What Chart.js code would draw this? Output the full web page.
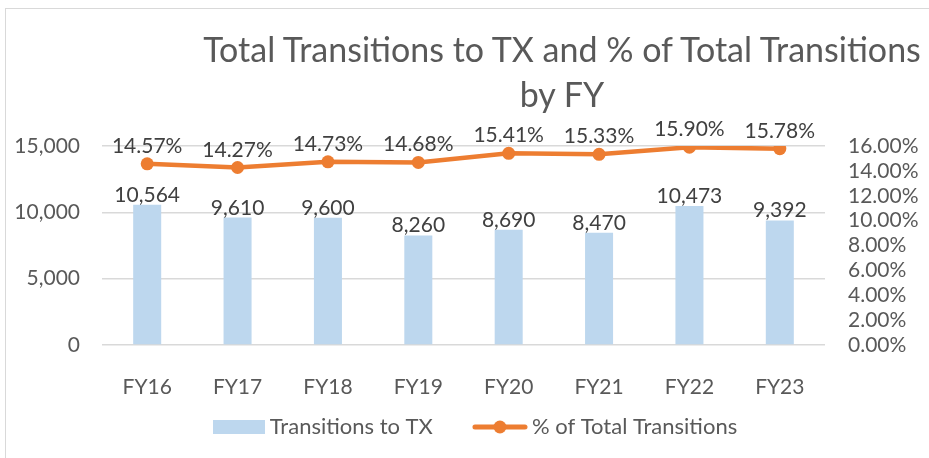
<!DOCTYPE html>
<html>
<head>
<meta charset="utf-8">
<script src="https://cdn.jsdelivr.net/npm/chart.js@4"></script>
<style>
  html, body { margin: 0; padding: 0; background: #fff; }
  #wrap { position: relative; width: 929px; height: 458px; overflow: hidden; }
  #frame { position: absolute; left: 5px; top: 8px; width: 1000px; height: 1000px; border: 1.5px solid #d9d9d9; }
  #title { position: absolute; left: 180px; width: 764px; top: 26px; text-align: center;
           font-family: Lato, sans-serif; font-size: 34px; line-height: 45px; color: #595959; }
  #chart { position: absolute; left: 0; top: 0; }
</style>
</head>
<body>
<div id="wrap">
  <div id="frame"></div>
  <canvas id="chart" width="929" height="458"></canvas>
  <div id="title">Total Transitions to TX and % of Total Transitions<br>by FY</div>
</div>
<script>
const years = ['FY16', 'FY17', 'FY18', 'FY19', 'FY20', 'FY21', 'FY22', 'FY23'];
const transitions = [10564, 9610, 9600, 8260, 8690, 8470, 10473, 9392];
const pctOfTotal = [14.57, 14.27, 14.73, 14.68, 15.41, 15.33, 15.90, 15.78];

const barColor = '#BDD7EE';
const lineColor = '#ED7D31';
const tickColor = '#595959';
const labelColor = '#404040';
const font = 'Lato, sans-serif';

// legend swatches (bar block, line with marker)
const barSwatch = document.createElement('canvas');
barSwatch.width = 52; barSwatch.height = 14;
let sc = barSwatch.getContext('2d');
sc.fillStyle = barColor;
sc.fillRect(0, 0, 52, 14);

const lineSwatch = document.createElement('canvas');
lineSwatch.width = 56; lineSwatch.height = 14;
sc = lineSwatch.getContext('2d');
sc.strokeStyle = lineColor; sc.lineWidth = 5; sc.lineCap = 'round';
sc.beginPath(); sc.moveTo(3, 7); sc.lineTo(53, 7); sc.stroke();
sc.fillStyle = lineColor;
sc.beginPath(); sc.arc(28, 7, 6.5, 0, Math.PI * 2); sc.fill();

const swatches = [barSwatch, lineSwatch];

// value labels above bars and points
const valueLabels = {
  id: 'valueLabels',
  afterDatasetsDraw(chart) {
    const ctx = chart.ctx;
    ctx.save();
    ctx.font = '21px ' + font;
    ctx.fillStyle = labelColor;
    ctx.textAlign = 'center';
    ctx.textBaseline = 'alphabetic';
    chart.getDatasetMeta(0).data.forEach((bar, i) => {
      ctx.fillText(transitions[i].toLocaleString('en-US'), bar.x, bar.y - 3);
    });
    chart.getDatasetMeta(1).data.forEach((pt, i) => {
      ctx.fillText(pctOfTotal[i].toFixed(2) + '%', pt.x, pt.y - 11);
    });
    ctx.restore();
  }
};

// Excel-style legend row under the axis
const excelLegend = {
  id: 'excelLegend',
  afterDraw(chart) {
    const ctx = chart.ctx;
    ctx.save();
    ctx.font = '22px ' + font;
    const cy = 427;
    const itemGap = 39;
    const items = chart.data.datasets.map((ds, i) => ({
      text: ds.label,
      swatch: swatches[i],
      gap: i === 0 ? 5 : 4,
      tw: ctx.measureText(ds.label).width
    }));
    let total = itemGap * (items.length - 1);
    items.forEach(it => { total += it.swatch.width + it.gap + it.tw; });
    let x = 475 - total / 2;
    ctx.fillStyle = tickColor;
    ctx.textAlign = 'left';
    ctx.textBaseline = 'alphabetic';
    items.forEach(it => {
      ctx.drawImage(it.swatch, x, cy - it.swatch.height / 2);
      x += it.swatch.width + it.gap;
      ctx.fillText(it.text, x, cy + 7);
      x += it.tw + itemGap;
    });
    ctx.restore();
  }
};

new Chart(document.getElementById('chart'), {
  type: 'bar',
  data: {
    labels: years,
    datasets: [
      {
        type: 'bar',
        label: 'Transitions to TX',
        data: transitions,
        backgroundColor: barColor,
        yAxisID: 'y',
        barPercentage: 0.31,
        categoryPercentage: 1,
        order: 2
      },
      {
        type: 'line',
        label: '% of Total Transitions',
        data: pctOfTotal,
        borderColor: lineColor,
        backgroundColor: lineColor,
        borderWidth: 4.5,
        pointRadius: 6.5,
        pointHoverRadius: 6.5,
        pointBackgroundColor: lineColor,
        pointBorderWidth: 0,
        yAxisID: 'y1',
        order: 1
      }
    ]
  },
  options: {
    responsive: false,
    animation: false,
    layout: { padding: { top: 146, left: 0, right: 0, bottom: 63 } },
    plugins: {
      title: { display: false },
      tooltip: { enabled: false },
      legend: { display: false }
    },
    scales: {
      x: {
        grid: { display: false },
        border: { display: false },
        ticks: { color: tickColor, font: { family: font, size: 21 }, padding: 22 },
        afterFit: (s) => { s.height = 50; }
      },
      y: {
        position: 'left',
        min: 0,
        max: 15000,
        ticks: {
          stepSize: 5000,
          color: tickColor,
          font: { family: font, size: 21 },
          padding: 22,
          callback: (v) => v.toLocaleString('en-US')
        },
        grid: { color: '#d9d9d9', lineWidth: 1.5, drawTicks: false },
        border: { display: false },
        afterFit: (s) => { s.width = 102; }
      },
      y1: {
        position: 'right',
        min: 0,
        max: 16,
        ticks: {
          stepSize: 2,
          autoSkip: false,
          color: tickColor,
          font: { family: font, size: 21 },
          padding: 23,
          callback: (v) => v.toFixed(2) + '%'
        },
        grid: { display: false, drawTicks: false },
        border: { display: false },
        afterFit: (s) => { s.width = 104; }
      }
    }
  },
  plugins: [valueLabels, excelLegend]
});
</script>
</body>
</html>
